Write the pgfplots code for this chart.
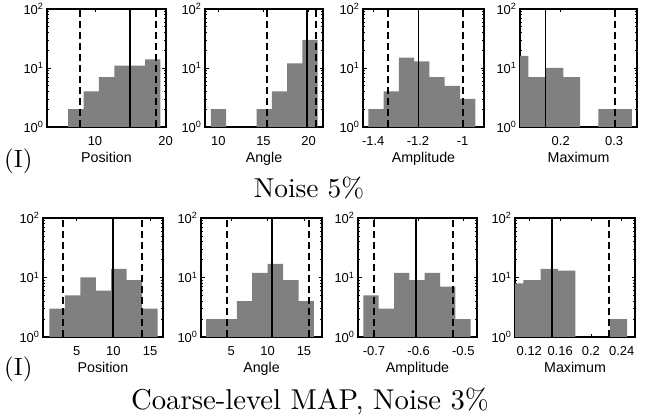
\documentclass[border=0pt]{standalone}
\usepackage{fontspec}
\usepackage{graphicx}
\usepackage{pgfplots}
\pgfplotsset{compat=1.18}
\newfontfamily\hel{Liberation Sans}
\definecolor{histgray}{RGB}{128,128,128}
\pgfplotsset{every axis/.append style={
    scale only axis,
    ymode=log, ymin=1, ymax=100,
    ytick={1,10,100},
    yticklabels={10\textsuperscript{0},10\textsuperscript{1},10\textsuperscript{2}},
    minor ytick={2,3,4,5,6,7,8,9,20,30,40,50,60,70,80,90},
    axis line style={line width=1.4bp},
    tick style={black, line width=0.6bp},
    major tick length=3.5bp, minor tick length=2bp,
    tick align=inside,
    tick label style={font=\hel\fontsize{13}{13}\selectfont},
    xticklabel style={yshift=-6bp},
    label style={font=\hel\fontsize{14.3}{14.3}\selectfont},
    xlabel style={at={(axis description cs:0.5,0)}, anchor=north, inner sep=0pt, yshift=-25bp},
}}
\tikzset{
  mymed/.style={black, line width=1.7bp},
  myci/.style={black, line width=2bp, dash pattern=on 7bp off 4bp},
}
\begin{document}
\begin{tikzpicture}
\useasboundingbox (0,0) rectangle (646bp,417bp);
% ---------------- top row: Noise 5% ----------------
\begin{axis}[anchor=south west, at={(47bp,290bp)}, width=119bp, height=118bp,
  xmin=3.2, xmax=20.07, xtick={10,20}, xticklabels={10,20}, xlabel={Position}]
\addplot[fill=histgray, draw=none, const plot mark left] coordinates {(6.21,2) (8.39,4) (10.57,7) (12.75,11) (14.93,11) (17.11,14) (19.29,14)} \closedcycle;
\addplot[myci] coordinates {(7.87,1) (7.87,100)};
\addplot[mymed] coordinates {(14.96,1) (14.96,100)};
\addplot[myci] coordinates {(18.65,1) (18.65,100)};
\end{axis}
\begin{axis}[anchor=south west, at={(205bp,290bp)}, width=118bp, height=118bp,
  xmin=8.52, xmax=21.6, xtick={10,15,20}, xticklabels={10,15,20}, xlabel={Angle}]
\addplot[fill=histgray, draw=none, const plot mark left] coordinates {(9.16,2) (10.85,2)} \closedcycle;
\addplot[fill=histgray, draw=none, const plot mark left] coordinates {(14.23,2) (15.92,4) (17.61,12) (19.31,30) (21.0,30)} \closedcycle;
\addplot[myci] coordinates {(15.38,1) (15.38,100)};
\addplot[mymed] coordinates {(19.82,1) (19.82,100)};
\addplot[myci] coordinates {(20.86,1) (20.86,100)};
\end{axis}
\begin{axis}[anchor=south west, at={(363bp,290bp)}, width=121bp, height=118bp,
  xmin=-1.446, xmax=-0.904, xtick={-1.4,-1.2,-1}, xticklabels={-1.4,-1.2,-1}, xlabel={Amplitude}]
\addplot[fill=histgray, draw=none, const plot mark left] coordinates {(-1.4225,2) (-1.354,4) (-1.2855,15) (-1.217,13) (-1.1485,7) (-1.08,5) (-1.0115,3) (-0.943,3)} \closedcycle;
\addplot[myci] coordinates {(-1.336,1) (-1.336,100)};
\addplot[mymed] coordinates {(-1.198,1) (-1.198,100)};
\addplot[myci] coordinates {(-1.0,1) (-1.0,100)};
\end{axis}
\begin{axis}[anchor=south west, at={(520bp,290bp)}, width=117bp, height=118bp,
  xmin=0.1236, xmax=0.343, xtick={0.2,0.3}, xticklabels={0.2,0.3}, xlabel={Maximum}]
\addplot[fill=histgray, draw=none, const plot mark left] coordinates {(0.1069,16) (0.1392,7) (0.1713,10) (0.2049,7) (0.2362,7)} \closedcycle;
\addplot[fill=histgray, draw=none, const plot mark left] coordinates {(0.2705,2) (0.3019,2) (0.3332,2)} \closedcycle;
\addplot[mymed] coordinates {(0.1713,1) (0.1713,100)};
\addplot[myci] coordinates {(0.3019,1) (0.3019,100)};
\end{axis}
% ---------------- bottom row: Coarse-level MAP, Noise 3% ----------------
\begin{axis}[anchor=south west, at={(43bp,80bp)}, width=120bp, height=119bp,
  xmin=0.4, xmax=16.77, xtick={5,10,15}, xticklabels={5,10,15}, xlabel={Position}]
\addplot[fill=histgray, draw=none, const plot mark left] coordinates {(1.27,3) (3.38,5) (5.49,10) (7.6,6) (9.71,14) (11.82,9) (13.93,3) (16.04,3)} \closedcycle;
\addplot[myci] coordinates {(3.09,1) (3.09,100)};
\addplot[mymed] coordinates {(9.91,1) (9.91,100)};
\addplot[myci] coordinates {(13.9,1) (13.9,100)};
\end{axis}
\begin{axis}[anchor=south west, at={(201bp,80bp)}, width=121bp, height=119bp,
  xmin=0.83, xmax=17.48, xtick={5,10,15}, xticklabels={5,10,15}, xlabel={Angle}]
\addplot[fill=histgray, draw=none, const plot mark left] coordinates {(1.52,2) (3.64,2) (5.76,4) (7.88,12) (10.0,17) (12.13,9) (14.25,4) (16.37,4)} \closedcycle;
\addplot[myci] coordinates {(4.45,1) (4.45,100)};
\addplot[mymed] coordinates {(10.6,1) (10.6,100)};
\addplot[myci] coordinates {(15.69,1) (15.69,100)};
\end{axis}
\begin{axis}[anchor=south west, at={(358bp,80bp)}, width=119bp, height=119bp,
  xmin=-0.7358, xmax=-0.4693, xtick={-0.7,-0.6,-0.5}, xticklabels={-0.7,-0.6,-0.5}, xlabel={Amplitude}]
\addplot[fill=histgray, draw=none, const plot mark left] coordinates {(-0.724,5) (-0.6895,3) (-0.655,12) (-0.621,9) (-0.5865,12) (-0.552,7) (-0.518,2) (-0.4835,2)} \closedcycle;
\addplot[myci] coordinates {(-0.6993,1) (-0.6993,100)};
\addplot[mymed] coordinates {(-0.6052,1) (-0.6052,100)};
\addplot[myci] coordinates {(-0.5232,1) (-0.5232,100)};
\end{axis}
\begin{axis}[anchor=south west, at={(515bp,80bp)}, width=120bp, height=119bp,
  xmin=0.1014, xmax=0.2573, xtick={0.12,0.16,0.2,0.24}, xticklabels={0.12,0.16,0.2,0.24}, xlabel={Maximum}]
\addplot[fill=histgray, draw=none, const plot mark left] coordinates {(0.0897,8) (0.1122,9) (0.1347,14) (0.1572,13) (0.1797,13)} \closedcycle;
\addplot[fill=histgray, draw=none, const plot mark left] coordinates {(0.2247,2) (0.2472,2)} \closedcycle;
\addplot[mymed] coordinates {(0.1491,1) (0.1491,100)};
\addplot[myci] coordinates {(0.224,1) (0.224,100)};
\end{axis}
% ---------------- titles ----------------
\node[anchor=base west, inner sep=0] at (4bp,249bp) {\scalebox{2.5}{\normalsize (I)}};
\node[anchor=base, inner sep=0] at (309bp,219bp) {\scalebox{2.75}{\normalsize Noise 5\%}};
\node[anchor=base west, inner sep=0] at (4bp,41bp) {\scalebox{2.5}{\normalsize (I)}};
\node[anchor=base, inner sep=0] at (310bp,7bp) {\scalebox{2.88}{\normalsize Coarse-level MAP, Noise 3\%}};
\end{tikzpicture}
\end{document}
